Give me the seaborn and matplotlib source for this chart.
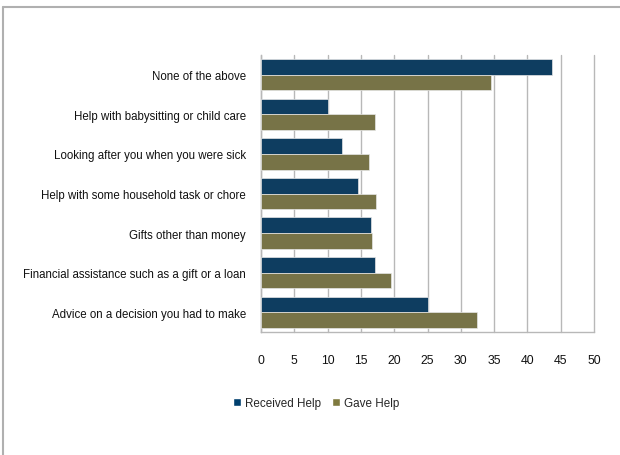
import pandas as pd
import numpy as np
import matplotlib
matplotlib.use("Agg")
import matplotlib.pyplot as plt
import seaborn as sns
from matplotlib.patches import Patch

categories = ["None of the above",
              "Help with babysitting or child care",
              "Looking after you when you were sick",
              "Help with some household task or chore",
              "Gifts other than money",
              "Financial assistance such as a gift or a loan",
              "Advice on a decision you had to make"]
received = [43.7, 10.1, 12.2, 14.6, 16.5, 17.1, 25.0]
gave = [34.5, 17.1, 16.2, 17.3, 16.7, 19.5, 32.5]
series = ["Received Help", "Gave Help"]
colors = ["#003f6e", "#7f7a3f"]

df = pd.DataFrame({"category": categories * 2,
                   "value": received + gave,
                   "series": [series[0]] * len(categories) + [series[1]] * len(categories)})

sns.set_style("white")
plt.rcParams["font.family"] = ["Liberation Sans", "DejaVu Sans"]

fig = plt.figure(figsize=(6.2, 4.56), dpi=100)
ax = fig.add_axes([261 / 620, 1 - 333 / 456, 333 / 620, 277 / 456])

sns.barplot(data=df, y="category", x="value", hue="series", order=categories,
            hue_order=series, palette=colors, width=0.79, orient="h",
            edgecolor="#e6e6e6", linewidth=0.5, ax=ax, legend=False, zorder=3)

ax.set_xlim(0, 50)
ax.set_ylim(len(categories) - 0.5, -0.5)
ax.set_xticks(np.arange(0, 51, 5))
ax.set_xlabel("")
ax.set_ylabel("")
ax.grid(axis="x", color="#b8b8b8", linewidth=1, zorder=0)
for gl in ax.get_xgridlines():
    gl.set_clip_on(False)
for s in ["top", "right"]:
    ax.spines[s].set_visible(False)
for s in ["left", "bottom"]:
    ax.spines[s].set_color("#b8b8b8")
    ax.spines[s].set_linewidth(1)

ax.tick_params(axis="x", length=4, color="#b8b8b8", pad=11.5, labelsize=8.8, labelcolor="#111111")
ax.tick_params(axis="y", length=0, pad=10.8, labelsize=8.3, labelcolor="#111111")
ax.set_yticks(np.arange(-0.5, len(categories), 1), minor=True)
ax.tick_params(axis="y", which="minor", length=4, color="#b8b8b8", direction="out")

handles = [Patch(facecolor=c, label=l) for c, l in zip(colors, series)]
fig.legend(handles=handles, loc="center", bbox_to_anchor=(316 / 620, 1 - 404 / 456),
           ncol=2, frameon=False, fontsize=8.4, handlelength=0.7, handleheight=0.7,
           handletextpad=0.3, columnspacing=1.0)

# outer frame (only left and top edges visible in the crop)
fig.add_artist(plt.Line2D([3 / 620, 3 / 620], [0, 1 - 8 / 456], color="#b0b0b0", lw=1.5,
                          transform=fig.transFigure))
fig.add_artist(plt.Line2D([3 / 620, 1], [1 - 8 / 456, 1 - 8 / 456], color="#b0b0b0", lw=1.5,
                          transform=fig.transFigure))

fig.savefig("out.png", dpi=100)
